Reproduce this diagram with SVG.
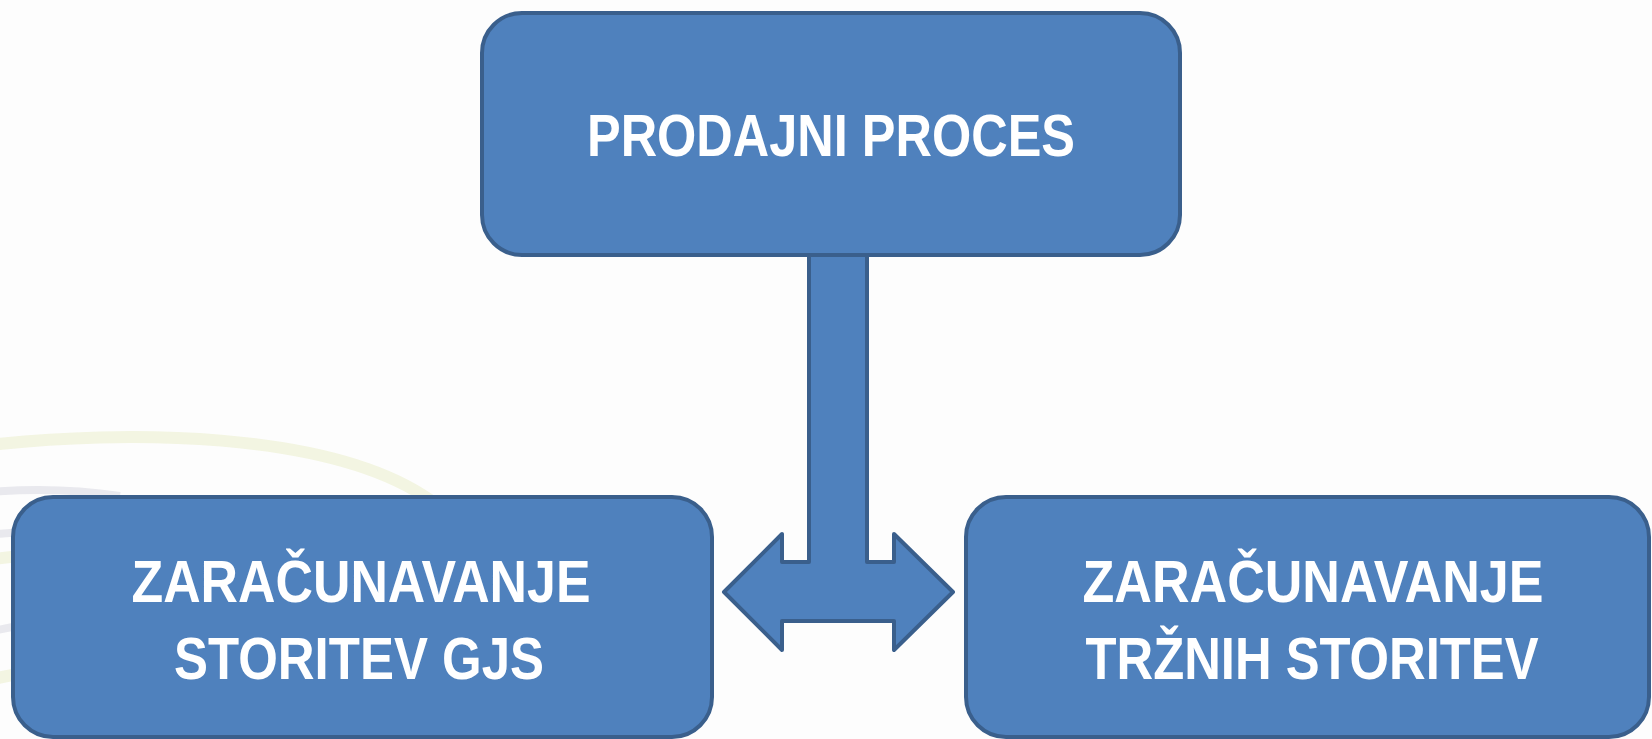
<svg xmlns="http://www.w3.org/2000/svg" width="1652" height="739" viewBox="0 0 1652 739">
  <style>
    .box { fill: #4f81bd; stroke: #3a5f8c; stroke-width: 4; }
    .arrow { fill: #4f81bd; stroke: #3a5f8c; stroke-width: 4; stroke-linejoin: round; }
    .label { fill: #ffffff; font-family: "Liberation Sans", Arial, sans-serif; font-weight: bold; font-size: 59px; text-anchor: middle; }
    .swoosh-y { fill: none; stroke: #f3f5e2; stroke-width: 12; }
    .swoosh-g { fill: none; stroke: #e9e9ee; stroke-width: 8; }
  </style>

  <!-- page background -->
  <rect x="0" y="0" width="1652" height="739" fill="#fdfdfd"/>

  <!-- faint decorative swooshes behind the left box -->
  <g id="background">
    <path class="swoosh-y" d="M -10 445 C 120 430 330 430 430 500"/>
    <path class="swoosh-g" d="M -10 492 C 40 488 80 490 120 496"/>
    <path class="swoosh-g" d="M -10 535 C 10 532 25 532 40 534"/>
    <path class="swoosh-y" d="M -10 560 C 5 557 15 556 30 556"/>
    <path class="swoosh-g" d="M -10 632 C 5 628 15 626 30 624"/>
    <path class="swoosh-y" d="M -10 680 C 5 676 15 674 30 672"/>
  </g>

  <!-- connector: stem with double-headed arrow -->
  <g id="connectors">
    <path class="arrow" d="M 809 250 L 867 250 L 867 562 L 894 562 L 894 534 L 953 592 L 894 650 L 894 621 L 782 621 L 782 650 L 724 592 L 782 534 L 782 562 L 809 562 Z"/>
  </g>

  <g id="node-prodajni-proces">
    <rect class="box" x="482" y="13" width="698" height="242" rx="40" ry="40"/>
    <text class="label" x="831" y="156" textLength="488" lengthAdjust="spacingAndGlyphs">PRODAJNI PROCES</text>
  </g>

  <g id="node-gjs">
    <rect class="box" x="13" y="497" width="699" height="240" rx="40" ry="40"/>
    <text class="label" x="361" y="602" textLength="459" lengthAdjust="spacingAndGlyphs">ZARAČUNAVANJE</text>
    <text class="label" x="359" y="679" textLength="370" lengthAdjust="spacingAndGlyphs">STORITEV GJS</text>
  </g>

  <g id="node-trzne">
    <rect class="box" x="966" y="497" width="683" height="240" rx="40" ry="40"/>
    <text class="label" x="1313" y="602" textLength="461" lengthAdjust="spacingAndGlyphs">ZARAČUNAVANJE</text>
    <text class="label" x="1312" y="679" textLength="453" lengthAdjust="spacingAndGlyphs">TRŽNIH STORITEV</text>
  </g>
</svg>
